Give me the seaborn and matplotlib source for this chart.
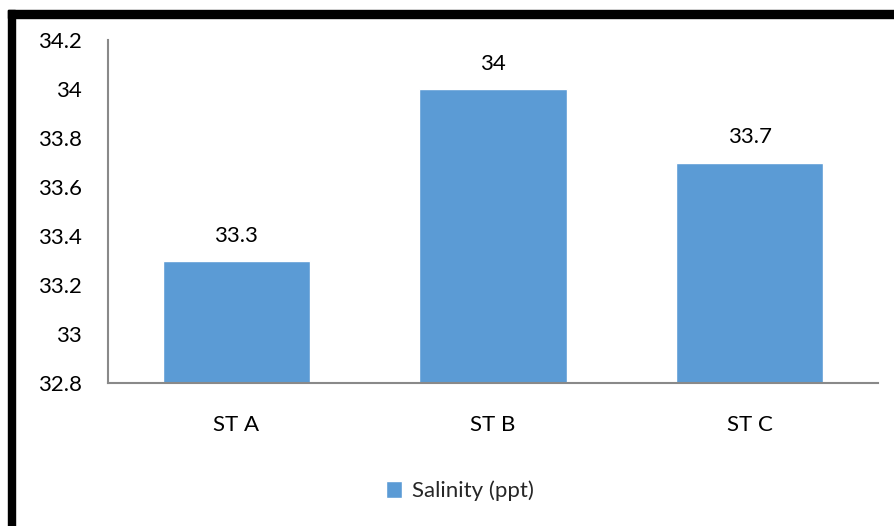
import matplotlib
matplotlib.use("Agg")
import matplotlib.pyplot as plt
import seaborn as sns
import pandas as pd
from matplotlib.patches import Rectangle

stations = ["ST A", "ST B", "ST C"]
salinity = [33.3, 34.0, 33.7]
value_labels = ["33.3", "34", "33.7"]
y_ticks = [32.8, 33.0, 33.2, 33.4, 33.6, 33.8, 34.0, 34.2]
y_tick_labels = ["32.8", "33", "33.2", "33.4", "33.6", "33.8", "34", "34.2"]
series_name = "Salinity (ppt)"

sns.set_theme(style="white")
plt.rcParams["font.family"] = ["Lato", "DejaVu Sans"]
FS = 16

df = pd.DataFrame({"Station": stations, "Salinity": salinity})

fig = plt.figure(figsize=(8.94, 5.26), dpi=100)
ax = fig.add_axes([108 / 894, 1 - 383 / 526, (878 - 108) / 894, (383 - 40) / 526])

bar_color = "#5b9bd5"
sns.barplot(data=df, x="Station", y="Salinity", color=bar_color, width=0.575,
            saturation=1, ax=ax, label=series_name)

ax.set_ylim(32.8, 34.2)
ax.set_xlim(-0.5, 2.5)
ax.set_yticks(y_ticks)
ax.set_yticklabels(y_tick_labels, fontsize=FS, color="#000000")
ax.tick_params(axis="x", labelsize=FS, colors="#000000", length=0, pad=23)
ax.tick_params(axis="y", length=0, pad=19)
ax.set_xlabel("")
ax.set_ylabel("")

for side in ["top", "right"]:
    ax.spines[side].set_visible(False)
for side in ["left", "bottom"]:
    ax.spines[side].set_color("#898989")
    ax.spines[side].set_linewidth(1.5)

for i, (v, lab) in enumerate(zip(salinity, value_labels)):
    ax.annotate(lab, (i, v), xytext=(0, 18), textcoords="offset points",
                ha="center", va="center", fontsize=FS, color="#000000")

leg = ax.legend(loc="center", bbox_to_anchor=(460 / 894, 1 - 491 / 526),
                bbox_transform=fig.transFigure, frameon=False, fontsize=FS,
                handlelength=0.75, handleheight=0.75, handletextpad=0.45)

# Black frame along the top and left edges
fig.patches.append(Rectangle((8 / 894, 1 - 18 / 526), 1, 8 / 526,
                             transform=fig.transFigure, color="black", zorder=10))
fig.patches.append(Rectangle((8 / 894, 0), 7 / 894, 1 - 10 / 526,
                             transform=fig.transFigure, color="black", zorder=10))

fig.savefig("out.png", dpi=100)
